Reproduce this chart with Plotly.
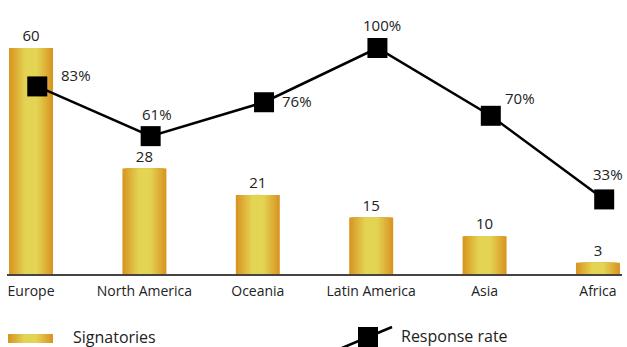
import plotly.graph_objects as go

regions = ["Europe", "North America", "Oceania", "Latin America", "Asia", "Africa"]
signatories = [60, 28, 21, 15, 10, 3]
response_rate = [83, 61, 76, 100, 70, 33]
rate_labels = [f"{v}%" for v in response_rate]

W, H = 627, 347
L, R, T, B = 7, 5, 20, 73
PW, PH = W - L - R, H - T - B
BASE = H - B


def pxx(p):
    return (p - L) / PW


def pxy(p):
    return (BASE - p) / PH


FONT = "Open Sans"
TXT = "#222222"
EDGE = (216, 150, 34)
CENTER = (228, 212, 84)
N = 12
BAR_W = 0.388


def mix(t):
    t = min(1.0, t * 1.3)
    c = [round(EDGE[k] + (CENTER[k] - EDGE[k]) * t) for k in range(3)]
    return f"rgb({c[0]},{c[1]},{c[2]})"


fig = go.Figure()
for i in range(N):
    t = i / (N - 1)
    fig.add_bar(
        x=regions, y=signatories, width=BAR_W * (1 - i / N),
        marker=dict(color=mix(t), line=dict(width=0)),
        text=[str(v) for v in signatories] if i == 0 else None,
        textposition="outside" if i == 0 else "none",
        textfont=dict(family=FONT, size=15, color=TXT),
        cliponaxis=False, hoverinfo="skip",
    )

fig.add_scatter(
    x=regions, y=response_rate, xaxis="x2", yaxis="y2",
    mode="lines+markers",
    line=dict(color="black", width=2.5),
    marker=dict(symbol="square", size=20, color="black", line=dict(width=0)),
    cliponaxis=False, hoverinfo="skip",
)

shifts = [("left", 22, 11), ("center", 6, 22), ("left", 16, 1),
          ("center", 5, 23), ("left", 12, 18), ("center", 4, 25)]
annotations = []
for r, v, lab, (xa, xs, ys) in zip(regions, response_rate, rate_labels, shifts):
    annotations.append(dict(
        x=r, y=v, xref="x2", yref="y2", text=lab, showarrow=False,
        xanchor=xa, yanchor="middle", xshift=xs, yshift=ys,
        font=dict(family=FONT, size=15, color=TXT)))

# legend
shapes = []
for i in range(N):
    t = i / (N - 1)
    half = 22.5 * (1 - i / N)
    shapes.append(dict(type="rect", xref="paper", yref="paper",
                       x0=pxx(30.5 - half), x1=pxx(30.5 + half),
                       y0=pxy(343), y1=pxy(334),
                       fillcolor=mix(t), line=dict(width=0), layer="above"))
shapes.append(dict(type="line", xref="paper", yref="paper",
                   x0=pxx(342), y0=pxy(348), x1=pxx(392), y1=pxy(327),
                   line=dict(color="black", width=2.5), layer="above"))
shapes.append(dict(type="rect", xref="paper", yref="paper",
                   x0=pxx(358), x1=pxx(378), y0=pxy(347), y1=pxy(327),
                   fillcolor="black", line=dict(width=0), layer="above"))
annotations.append(dict(x=pxx(71), y=pxy(337), xref="paper", yref="paper",
                        text="Signatories", showarrow=False, xanchor="left",
                        yanchor="middle", font=dict(family=FONT, size=16, color=TXT)))
annotations.append(dict(x=pxx(399), y=pxy(336), xref="paper", yref="paper",
                        text="Response rate", showarrow=False, xanchor="left",
                        yanchor="middle", font=dict(family=FONT, size=16, color=TXT)))

XR = [-0.212, 5.212]
SH = 0.055
fig.update_layout(
    width=W, height=H, margin=dict(l=L, r=R, t=T, b=B, pad=0),
    paper_bgcolor="white", plot_bgcolor="white",
    barmode="overlay", showlegend=False, hovermode=False,
    xaxis=dict(type="category", categoryorder="array", categoryarray=regions,
               range=XR, showline=True, linecolor="#444444", linewidth=2,
               showgrid=False, zeroline=False, ticks="",
               ticklabelstandoff=3,
               tickfont=dict(family=FONT, size=14, color=TXT)),
    xaxis2=dict(type="category", categoryorder="array", categoryarray=regions,
                overlaying="x", range=[XR[0] - SH, XR[1] - SH], visible=False),
    yaxis=dict(range=[0, PH / 3.767], visible=False),
    yaxis2=dict(range=[0, PH / 2.26], overlaying="y", visible=False),
    annotations=annotations, shapes=shapes,
)

fig.write_html("out.html")
